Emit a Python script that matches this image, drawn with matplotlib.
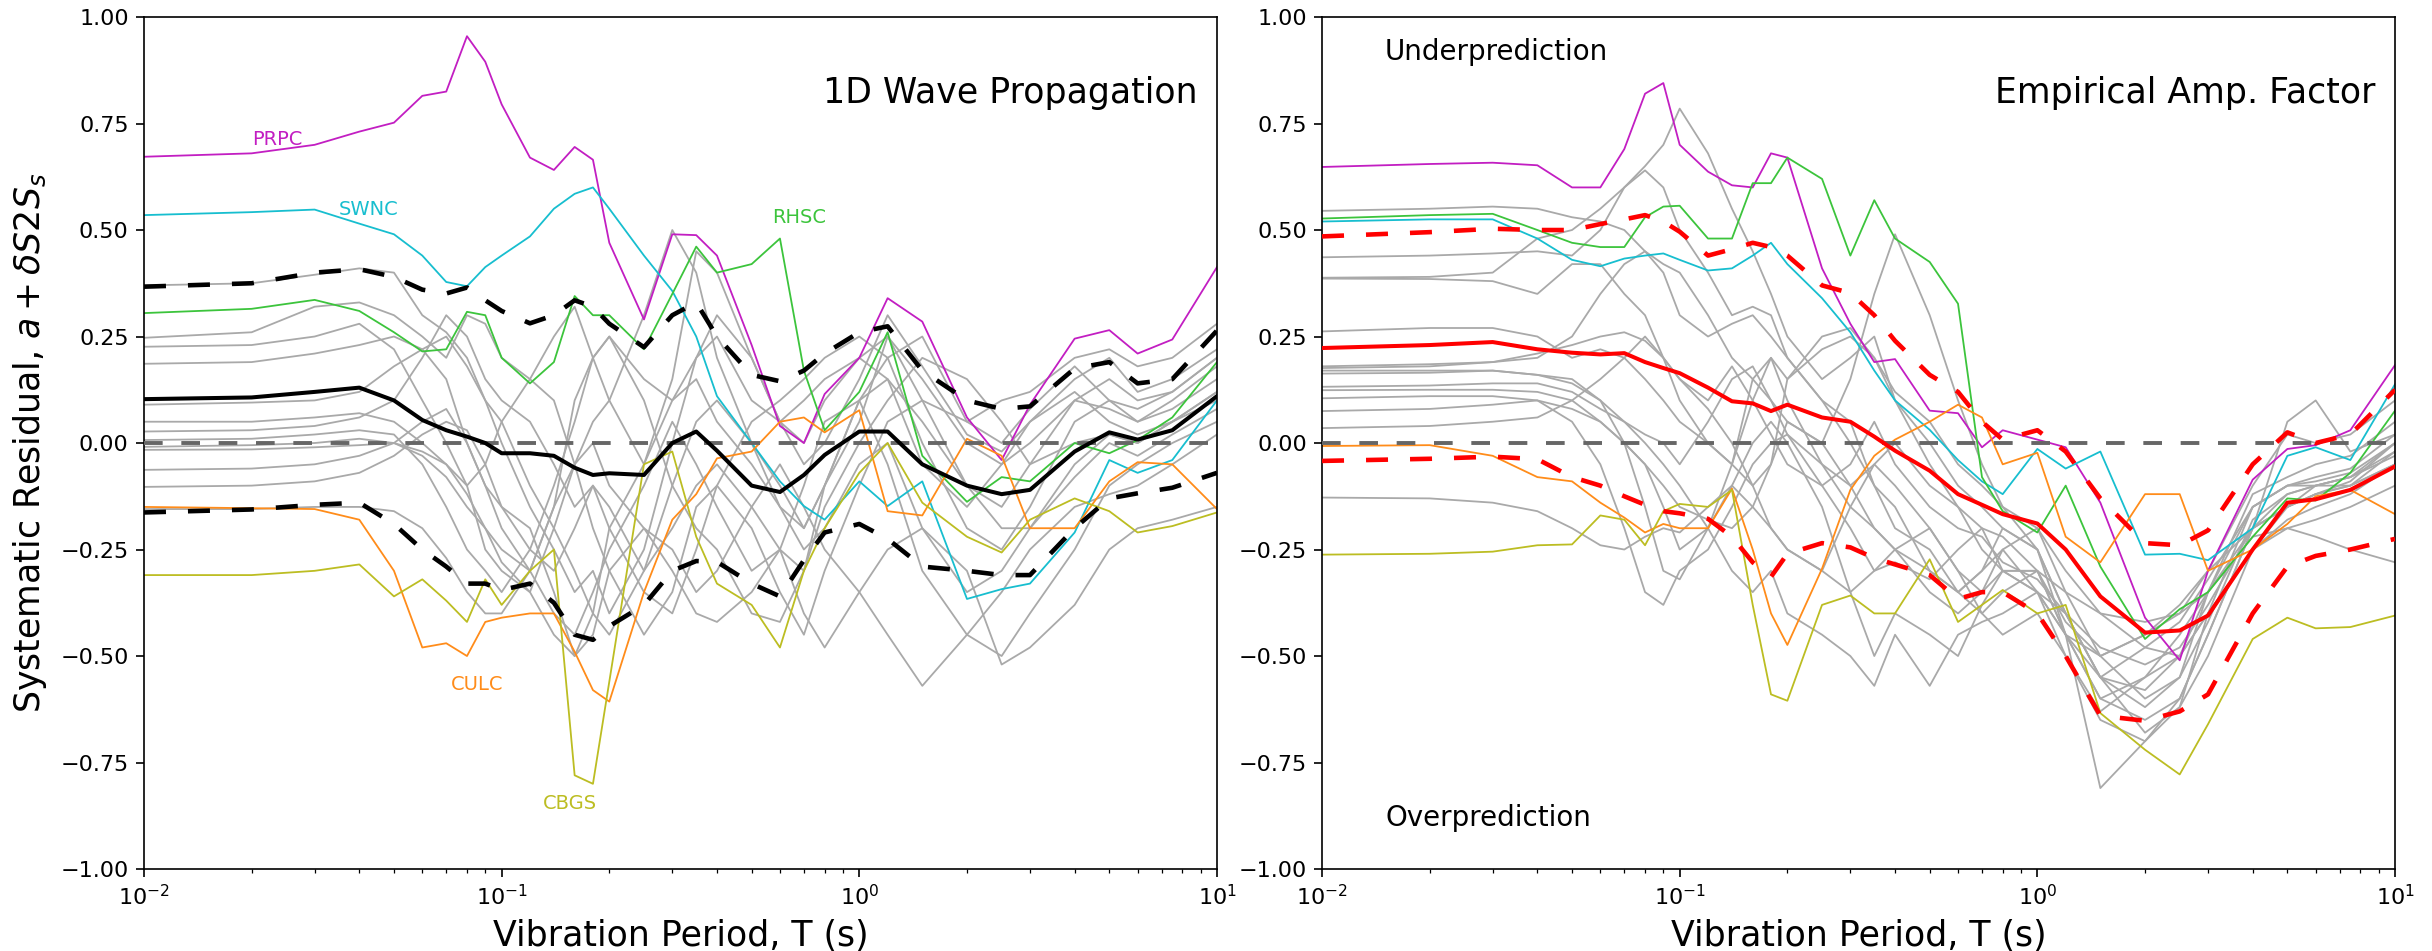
import matplotlib
matplotlib.use("Agg")
import matplotlib.pyplot as plt

# Vibration periods (s) shared by every residual curve
periods = [0.01, 0.02, 0.03, 0.04, 0.05, 0.06, 0.07, 0.08, 0.09, 0.1, 0.12, 0.14,
           0.16, 0.18, 0.2, 0.25, 0.3, 0.35, 0.4, 0.5, 0.6, 0.7, 0.8, 1.0, 1.2,
           1.5, 2.0, 2.5, 3.0, 4.0, 5.0, 6.0, 7.5, 10.0]

# ---------------- 1D wave propagation ----------------
wp_prpc = [0.672, 0.68, 0.70, 0.731, 0.752, 0.815, 0.825, 0.955, 0.895, 0.795, 0.67, 0.641,
           0.695, 0.665, 0.47, 0.29, 0.49, 0.488, 0.44, 0.23, 0.04, 0.0, 0.115, 0.20, 0.34,
           0.285, 0.06, -0.04, 0.09, 0.245, 0.265, 0.21, 0.243, 0.413]
wp_swnc = [0.535, 0.542, 0.548, 0.515, 0.49, 0.44, 0.378, 0.368, 0.413, 0.44, 0.485, 0.55,
           0.585, 0.60, 0.55, 0.44, 0.357, 0.25, 0.11, 0.0, -0.09, -0.148, -0.18, -0.09, -0.148,
           -0.09, -0.366, -0.343, -0.33, -0.21, -0.04, -0.07, -0.04, 0.10]
wp_rhsc = [0.305, 0.315, 0.336, 0.31, 0.26, 0.215, 0.22, 0.308, 0.30, 0.20, 0.14, 0.19,
           0.345, 0.30, 0.30, 0.22, 0.35, 0.461, 0.40, 0.42, 0.48, 0.17, 0.03, 0.12, 0.26,
           -0.03, -0.138, -0.08, -0.09, 0.0, -0.024, 0.007, 0.06, 0.19]
wp_culc = [-0.15, -0.153, -0.155, -0.18, -0.30, -0.48, -0.47, -0.50, -0.42, -0.41, -0.40, -0.40,
           -0.49, -0.58, -0.607, -0.35, -0.18, -0.12, -0.036, -0.02, 0.05, 0.06, 0.025, 0.077,
           -0.16, -0.17, 0.01, -0.03, -0.20, -0.20, -0.09, -0.045, -0.05, -0.155]
wp_cbgs = [-0.31, -0.31, -0.30, -0.285, -0.36, -0.32, -0.37, -0.42, -0.32, -0.38, -0.30, -0.25,
           -0.78, -0.80, -0.56, -0.05, -0.02, -0.22, -0.33, -0.38, -0.48, -0.30, -0.20, -0.07,
           0.0, -0.14, -0.22, -0.257, -0.18, -0.13, -0.16, -0.21, -0.195, -0.163]
wp_mean = [0.103, 0.107, 0.12, 0.13, 0.10, 0.054, 0.03, 0.015, 0.0, -0.024, -0.024, -0.03,
           -0.058, -0.075, -0.071, -0.075, 0.0, 0.027, -0.018, -0.10, -0.115, -0.075, -0.028,
           0.027, 0.027, -0.05, -0.10, -0.12, -0.11, -0.02, 0.025, 0.008, 0.03, 0.11]
wp_upper = [0.367, 0.375, 0.40, 0.408, 0.39, 0.36, 0.351, 0.365, 0.335, 0.31, 0.281, 0.30,
            0.335, 0.32, 0.28, 0.225, 0.30, 0.33, 0.25, 0.16, 0.145, 0.17, 0.21, 0.26, 0.274,
            0.17, 0.10, 0.08, 0.086, 0.175, 0.19, 0.14, 0.15, 0.264]
wp_lower = [-0.163, -0.156, -0.145, -0.14, -0.19, -0.25, -0.29, -0.33, -0.33, -0.345, -0.33,
            -0.375, -0.45, -0.462, -0.43, -0.38, -0.30, -0.277, -0.279, -0.33, -0.36, -0.275,
            -0.21, -0.19, -0.225, -0.29, -0.30, -0.31, -0.31, -0.20, -0.13, -0.118, -0.105, -0.07]
wp_others = [
    [0.37, 0.375, 0.395, 0.41, 0.40, 0.30, 0.26, 0.20, 0.10, 0.0, -0.15, -0.25, -0.35, -0.30,
     -0.40, -0.25, 0.00, 0.20, 0.25, 0.10, 0.05, 0.10, 0.15, 0.20, 0.25, 0.10, 0.05, 0.10, 0.12,
     0.20, 0.22, 0.18, 0.20, 0.28],
    [0.247, 0.26, 0.32, 0.33, 0.30, 0.25, 0.20, 0.30, 0.28, 0.20, 0.15, 0.25, 0.32, 0.20, 0.10,
     -0.05, 0.15, 0.45, 0.40, 0.20, 0.05, -0.05, 0.0, 0.15, 0.30, 0.18, 0.02, -0.02, 0.05, 0.15,
     0.20, 0.12, 0.15, 0.22],
    [0.226, 0.23, 0.25, 0.28, 0.22, 0.10, 0.0, -0.10, -0.25, -0.30, -0.35, -0.20, -0.05, 0.05,
     0.10, 0.30, 0.50, 0.40, 0.20, 0.0, -0.10, -0.20, -0.10, 0.10, 0.20, 0.25, 0.05, 0.0, 0.08,
     0.18, 0.10, 0.05, 0.10, 0.18],
    [0.186, 0.19, 0.21, 0.23, 0.25, 0.22, 0.15, 0.0, -0.10, -0.20, -0.30, -0.15, 0.10, 0.20,
     0.25, 0.10, -0.10, -0.20, -0.25, -0.40, -0.42, -0.30, -0.10, 0.10, 0.15, 0.05, -0.10,
     -0.15, -0.05, 0.10, 0.08, 0.05, 0.08, 0.15],
    [0.09, 0.095, 0.10, 0.12, 0.18, 0.22, 0.25, 0.18, 0.10, 0.05, -0.10, -0.20, -0.30, -0.40,
     -0.45, -0.30, -0.10, 0.05, 0.10, 0.0, -0.15, -0.25, -0.20, -0.05, 0.0, -0.20, -0.35, -0.30,
     -0.20, -0.05, 0.02, 0.0, 0.05, 0.12],
    [0.027, 0.03, 0.04, 0.06, 0.10, 0.20, 0.30, 0.25, 0.15, 0.10, 0.05, -0.05, -0.15, -0.10,
     -0.20, -0.35, -0.40, -0.25, -0.10, 0.05, 0.10, 0.15, 0.20, 0.25, 0.20, 0.0, -0.20, -0.25,
     -0.15, 0.05, 0.10, 0.08, 0.12, 0.20],
    [0.007, 0.01, 0.02, 0.03, 0.02, -0.05, -0.15, -0.25, -0.30, -0.35, -0.25, -0.10, 0.05, 0.20,
     0.25, 0.15, 0.10, 0.20, 0.30, 0.20, 0.05, 0.0, 0.10, 0.20, 0.15, -0.05, -0.15, -0.05, 0.05,
     0.12, 0.05, 0.02, 0.05, 0.10],
    [-0.009, -0.005, 0.0, 0.01, 0.0, -0.03, -0.08, -0.15, -0.20, -0.25, -0.30, -0.40, -0.45,
     -0.35, -0.25, -0.10, 0.05, -0.05, -0.15, -0.30, -0.25, -0.10, 0.05, 0.10, -0.05, -0.30,
     -0.45, -0.50, -0.40, -0.25, -0.10, -0.05, 0.0, 0.05],
    [-0.016, -0.015, -0.01, -0.005, 0.0, -0.02, -0.05, -0.10, -0.05, 0.05, 0.15, 0.10, -0.05,
     -0.20, -0.30, -0.45, -0.35, -0.15, -0.10, -0.20, -0.35, -0.45, -0.30, -0.10, 0.05, 0.10,
     -0.10, -0.20, -0.20, -0.08, 0.0, -0.03, 0.02, 0.08],
    [-0.063, -0.06, -0.05, -0.03, 0.0, 0.05, 0.08, 0.0, -0.10, -0.15, -0.20, -0.35, -0.50,
     -0.45, -0.30, -0.20, -0.25, -0.35, -0.30, -0.15, -0.05, -0.15, -0.25, -0.35, -0.45, -0.57,
     -0.45, -0.35, -0.25, -0.15, -0.12, -0.10, -0.05, 0.02],
    [-0.103, -0.10, -0.09, -0.07, -0.03, 0.02, 0.05, 0.03, -0.05, -0.15, -0.25, -0.30, -0.20,
     -0.10, -0.15, -0.30, -0.20, -0.10, -0.05, -0.15, -0.25, -0.30, -0.15, 0.0, 0.10, 0.20,
     0.15, 0.05, -0.05, 0.0, 0.02, 0.0, 0.05, 0.12],
    [-0.155, -0.155, -0.15, -0.15, -0.16, -0.20, -0.27, -0.35, -0.40, -0.40, -0.30, -0.15,
     -0.05, 0.0, -0.10, -0.20, -0.30, -0.40, -0.42, -0.35, -0.25, -0.40, -0.48, -0.35, -0.25,
     -0.20, -0.30, -0.52, -0.48, -0.38, -0.25, -0.20, -0.18, -0.15],
    [0.05, 0.05, 0.06, 0.07, 0.05, 0.0, -0.05, -0.12, -0.20, -0.28, -0.35, -0.45, -0.50, -0.40,
     -0.20, -0.05, 0.10, 0.15, 0.05, -0.05, -0.15, -0.20, -0.10, 0.05, 0.25, 0.15, 0.0, -0.05,
     0.0, 0.10, 0.15, 0.10, 0.12, 0.20],
]

# ---------------- Empirical amplification factor ----------------
ea_prpc = [0.648, 0.655, 0.658, 0.652, 0.60, 0.60, 0.69, 0.82, 0.845, 0.70, 0.637, 0.605,
           0.60, 0.68, 0.67, 0.41, 0.28, 0.19, 0.197, 0.076, 0.07, -0.01, 0.03, 0.008, -0.01,
           -0.14, -0.41, -0.51, -0.30, -0.086, -0.014, -0.005, 0.03, 0.183]
ea_swnc = [0.52, 0.525, 0.525, 0.48, 0.43, 0.415, 0.433, 0.44, 0.445, 0.43, 0.405, 0.41,
           0.44, 0.47, 0.42, 0.34, 0.26, 0.17, 0.10, 0.031, -0.04, -0.09, -0.12, -0.014, -0.06,
           -0.02, -0.262, -0.26, -0.275, -0.20, -0.03, -0.01, -0.04, 0.138]
ea_rhsc = [0.527, 0.535, 0.538, 0.50, 0.47, 0.46, 0.46, 0.53, 0.555, 0.557, 0.48, 0.48,
           0.61, 0.61, 0.67, 0.62, 0.44, 0.57, 0.48, 0.425, 0.327, -0.08, -0.16, -0.21, -0.10,
           -0.29, -0.46, -0.39, -0.35, -0.22, -0.13, -0.135, -0.07, 0.076]
ea_culc = [-0.007, -0.005, -0.03, -0.08, -0.09, -0.14, -0.175, -0.21, -0.19, -0.20, -0.20,
           -0.107, -0.25, -0.40, -0.474, -0.295, -0.11, -0.03, 0.008, 0.05, 0.09, 0.06, -0.05,
           -0.023, -0.22, -0.28, -0.12, -0.12, -0.30, -0.25, -0.19, -0.125, -0.11, -0.167]
ea_cbgs = [-0.262, -0.26, -0.255, -0.24, -0.238, -0.17, -0.18, -0.24, -0.16, -0.143, -0.15,
           -0.11, -0.38, -0.59, -0.605, -0.38, -0.358, -0.40, -0.40, -0.273, -0.42, -0.38,
           -0.345, -0.40, -0.38, -0.634, -0.72, -0.778, -0.66, -0.46, -0.41, -0.435, -0.432, -0.405]
ea_mean = [0.223, 0.23, 0.237, 0.22, 0.212, 0.208, 0.211, 0.19, 0.176, 0.164, 0.13, 0.098,
           0.093, 0.075, 0.09, 0.06, 0.05, 0.015, -0.018, -0.065, -0.12, -0.145, -0.167, -0.189,
           -0.25, -0.36, -0.445, -0.44, -0.405, -0.25, -0.14, -0.132, -0.11, -0.055]
ea_upper = [0.485, 0.495, 0.503, 0.50, 0.50, 0.514, 0.525, 0.535, 0.52, 0.496, 0.44, 0.455,
            0.47, 0.46, 0.44, 0.37, 0.352, 0.30, 0.24, 0.16, 0.12, 0.05, 0.008, 0.03, -0.02,
            -0.13, -0.235, -0.24, -0.205, -0.05, 0.025, 0.0, 0.02, 0.125]
ea_lower = [-0.042, -0.037, -0.032, -0.038, -0.08, -0.10, -0.125, -0.145, -0.16, -0.165,
            -0.178, -0.22, -0.28, -0.314, -0.26, -0.235, -0.245, -0.27, -0.285, -0.31, -0.366,
            -0.35, -0.35, -0.40, -0.50, -0.64, -0.652, -0.63, -0.59, -0.40, -0.29, -0.265,
            -0.25, -0.225]
ea_others = [
    [0.545, 0.55, 0.555, 0.55, 0.53, 0.52, 0.50, 0.45, 0.40, 0.30, 0.25, 0.28, 0.30, 0.25, 0.20,
     0.10, 0.0, -0.10, -0.20, -0.25, -0.35, -0.40, -0.35, -0.30, -0.45, -0.60, -0.55, -0.45,
     -0.35, -0.20, -0.15, -0.10, -0.08, 0.0],
    [0.436, 0.44, 0.445, 0.45, 0.44, 0.50, 0.60, 0.65, 0.70, 0.785, 0.68, 0.55, 0.45, 0.35, 0.25,
     0.15, 0.20, 0.25, 0.10, -0.05, -0.15, -0.25, -0.30, -0.35, -0.45, -0.50, -0.45, -0.40,
     -0.30, -0.10, 0.02, 0.0, 0.02, 0.10],
    [0.388, 0.39, 0.40, 0.48, 0.50, 0.55, 0.60, 0.64, 0.60, 0.50, 0.40, 0.30, 0.32, 0.30, 0.20,
     0.10, 0.05, -0.10, -0.15, -0.30, -0.35, -0.30, -0.25, -0.35, -0.50, -0.63, -0.55, -0.50,
     -0.40, -0.25, -0.18, -0.15, -0.12, -0.05],
    [0.386, 0.385, 0.38, 0.35, 0.42, 0.42, 0.35, 0.30, 0.20, 0.10, 0.0, -0.05, 0.10, 0.20, 0.15,
     0.25, 0.27, 0.20, 0.10, 0.0, -0.10, -0.15, -0.20, -0.25, -0.40, -0.55, -0.62, -0.55, -0.35,
     -0.15, -0.10, -0.10, -0.10, -0.05],
    [0.262, 0.27, 0.27, 0.25, 0.20, 0.22, 0.20, 0.15, 0.10, 0.05, 0.0, -0.05, -0.10, -0.05, 0.15,
     0.22, 0.25, 0.20, 0.12, 0.05, -0.05, -0.10, -0.15, -0.20, -0.35, -0.50, -0.60, -0.55,
     -0.42, -0.18, -0.12, -0.10, -0.08, -0.03],
    [0.176, 0.18, 0.19, 0.20, 0.25, 0.35, 0.42, 0.45, 0.42, 0.40, 0.30, 0.20, 0.15, 0.10, 0.05,
     0.0, 0.15, 0.35, 0.49, 0.30, 0.10, -0.05, -0.15, -0.25, -0.40, -0.55, -0.68, -0.62, -0.50,
     -0.25, -0.15, -0.12, -0.10, -0.02],
    [0.17, 0.17, 0.17, 0.16, 0.15, 0.10, 0.0, -0.15, -0.30, -0.32, -0.20, -0.05, 0.15, 0.20,
     0.10, -0.05, -0.15, -0.20, -0.25, -0.30, -0.35, -0.30, -0.20, -0.25, -0.45, -0.81, -0.70,
     -0.60, -0.45, -0.20, -0.12, -0.10, -0.08, -0.02],
    [0.163, 0.165, 0.17, 0.16, 0.14, 0.10, 0.05, 0.0, -0.05, -0.10, -0.20, -0.30, -0.35, -0.30,
     -0.40, -0.45, -0.50, -0.57, -0.45, -0.57, -0.45, -0.42, -0.40, -0.35, -0.40, -0.55, -0.58,
     -0.50, -0.35, -0.12, -0.08, -0.05, -0.03, 0.05],
    [0.132, 0.135, 0.14, 0.14, 0.12, 0.08, 0.05, 0.02, 0.0, -0.05, 0.05, 0.15, 0.18, 0.10, 0.02,
     -0.10, -0.20, -0.30, -0.25, -0.20, -0.30, -0.35, -0.30, -0.30, -0.42, -0.50, -0.45, -0.38,
     -0.30, -0.20, -0.15, -0.12, -0.10, -0.05],
    [0.124, 0.125, 0.125, 0.12, 0.10, 0.05, 0.0, -0.05, -0.15, -0.25, -0.20, -0.10, 0.0, 0.05,
     0.0, -0.15, -0.35, -0.50, -0.40, -0.45, -0.50, -0.38, -0.30, -0.30, -0.45, -0.60, -0.65,
     -0.60, -0.45, -0.20, 0.05, 0.10, -0.02, 0.02],
    [0.105, 0.11, 0.11, 0.10, 0.08, 0.05, 0.0, -0.05, -0.10, -0.15, -0.18, -0.20, -0.15, -0.05,
     0.05, 0.0, -0.10, -0.20, -0.25, -0.35, -0.40, -0.35, -0.25, -0.20, -0.30, -0.40, -0.48,
     -0.50, -0.40, -0.25, -0.20, -0.22, -0.25, -0.28],
    [0.035, 0.04, 0.05, 0.06, 0.10, 0.15, 0.20, 0.25, 0.20, 0.15, 0.08, 0.0, -0.10, -0.20,
     -0.25, -0.30, -0.15, -0.05, -0.10, -0.20, -0.30, -0.40, -0.45, -0.40, -0.50, -0.65, -0.70,
     -0.62, -0.40, -0.15, -0.10, -0.08, -0.06, 0.02],
    [-0.128, -0.13, -0.14, -0.16, -0.20, -0.24, -0.25, -0.22, -0.20, -0.21, -0.15, -0.10,
     -0.15, -0.20, -0.25, -0.30, -0.35, -0.30, -0.28, -0.32, -0.25, -0.20, -0.22, -0.30, -0.35,
     -0.40, -0.42, -0.40, -0.35, -0.22, -0.20, -0.18, -0.15, -0.10],
    [0.18, 0.185, 0.19, 0.21, 0.23, 0.25, 0.26, 0.24, 0.20, 0.15, 0.10, 0.18, 0.10, 0.02, -0.05,
     -0.10, -0.05, 0.05, -0.05, -0.15, -0.20, -0.22, -0.28, -0.32, -0.40, -0.48, -0.52, -0.48,
     -0.38, -0.20, -0.15, -0.12, -0.09, 0.00],
    [0.075, 0.08, 0.09, 0.10, 0.05, -0.05, -0.20, -0.35, -0.38, -0.30, -0.25, -0.15, -0.05, 0.0,
     0.02, -0.05, -0.10, -0.05, 0.0, -0.10, -0.15, -0.20, -0.30, -0.35, -0.45, -0.55, -0.48,
     -0.42, -0.32, -0.15, -0.10, -0.09, -0.07, 0.0],
]

# Highlighted stations: name, colour
station_names = ["PRPC", "SWNC", "RHSC", "CULC", "CBGS"]
station_colors = ["#c21ec2", "#17becf", "#3cc43c", "#ff8c1a", "#bcbd22"]
# Where the station names are written on the 1D panel (period, residual)
station_label_T = [0.02, 0.035, 0.57, 0.072, 0.13]
station_label_v = [0.70, 0.535, 0.517, -0.58, -0.86]

panel_titles = ["1D Wave Propagation", "Empirical Amp. Factor"]

plt.rcParams.update({
    "font.family": "DejaVu Sans",
    "axes.linewidth": 1.2,
    "xtick.major.size": 5.5, "xtick.major.width": 1.2,
    "ytick.major.size": 5.5, "ytick.major.width": 1.2,
    "xtick.minor.size": 3.2, "xtick.minor.width": 0.9,
    "xtick.major.pad": 5.5, "ytick.major.pad": 5.5,
    "xtick.labelsize": 16, "ytick.labelsize": 16,
})

fig = plt.figure(figsize=(24.32, 9.51), dpi=100)
ax1 = fig.add_axes([0.0592, 0.0862, 0.4412, 0.8959])
ax2 = fig.add_axes([0.5436, 0.0862, 0.4412, 0.8959])

DASH = (4.8, 4.8)


def draw_panel(ax, others, stations, mean, upper, lower, stat_color):
    for curve in others:
        ax.plot(periods, curve, color="#a9a9a9", lw=1.3, zorder=1)
    for curve, col in zip(stations, station_colors):
        ax.plot(periods, curve, color=col, lw=1.3, zorder=2)
    ax.plot([0.01, 10], [0, 0], color="#666666", lw=2.8, dashes=DASH, zorder=3)
    ax.plot(periods, mean, color=stat_color, lw=2.9, zorder=4)
    ax.plot(periods, upper, color=stat_color, lw=3.3, dashes=DASH, zorder=4)
    ax.plot(periods, lower, color=stat_color, lw=3.3, dashes=DASH, zorder=4)
    ax.set_xscale("log")
    ax.set_xlim(0.01, 10)
    ax.set_ylim(-1, 1)
    ax.set_yticks([-1, -0.75, -0.5, -0.25, 0, 0.25, 0.5, 0.75, 1.0])
    ax.set_yticklabels(["\u22121.00", "\u22120.75", "\u22120.50", "\u22120.25", "0.00",
                        "0.25", "0.50", "0.75", "1.00"])
    ax.set_xlabel("Vibration Period, T (s)", fontsize=25, labelpad=7)


draw_panel(ax1, wp_others, [wp_prpc, wp_swnc, wp_rhsc, wp_culc, wp_cbgs],
           wp_mean, wp_upper, wp_lower, "black")
draw_panel(ax2, ea_others, [ea_prpc, ea_swnc, ea_rhsc, ea_culc, ea_cbgs],
           ea_mean, ea_upper, ea_lower, "#ff0000")

for name, col, tx, ty in zip(station_names, station_colors, station_label_T, station_label_v):
    ax1.text(tx, ty, name, color=col, fontsize=14, ha="left", va="baseline", zorder=5)

for ax, title in zip((ax1, ax2), panel_titles):
    ax.text(0.982, 0.899, title, transform=ax.transAxes, ha="right", va="baseline",
            fontsize=25, zorder=6)

ax2.text(0.015, 0.9, "Underprediction", fontsize=20, ha="left", va="baseline")
ax2.text(0.015, -0.9, "Overprediction", fontsize=20, ha="left", va="baseline")

ax1.set_ylabel(r"Systematic Residual, $a + \delta S2S_s$", fontsize=25, labelpad=8)

fig.savefig("out.png", dpi=100)
